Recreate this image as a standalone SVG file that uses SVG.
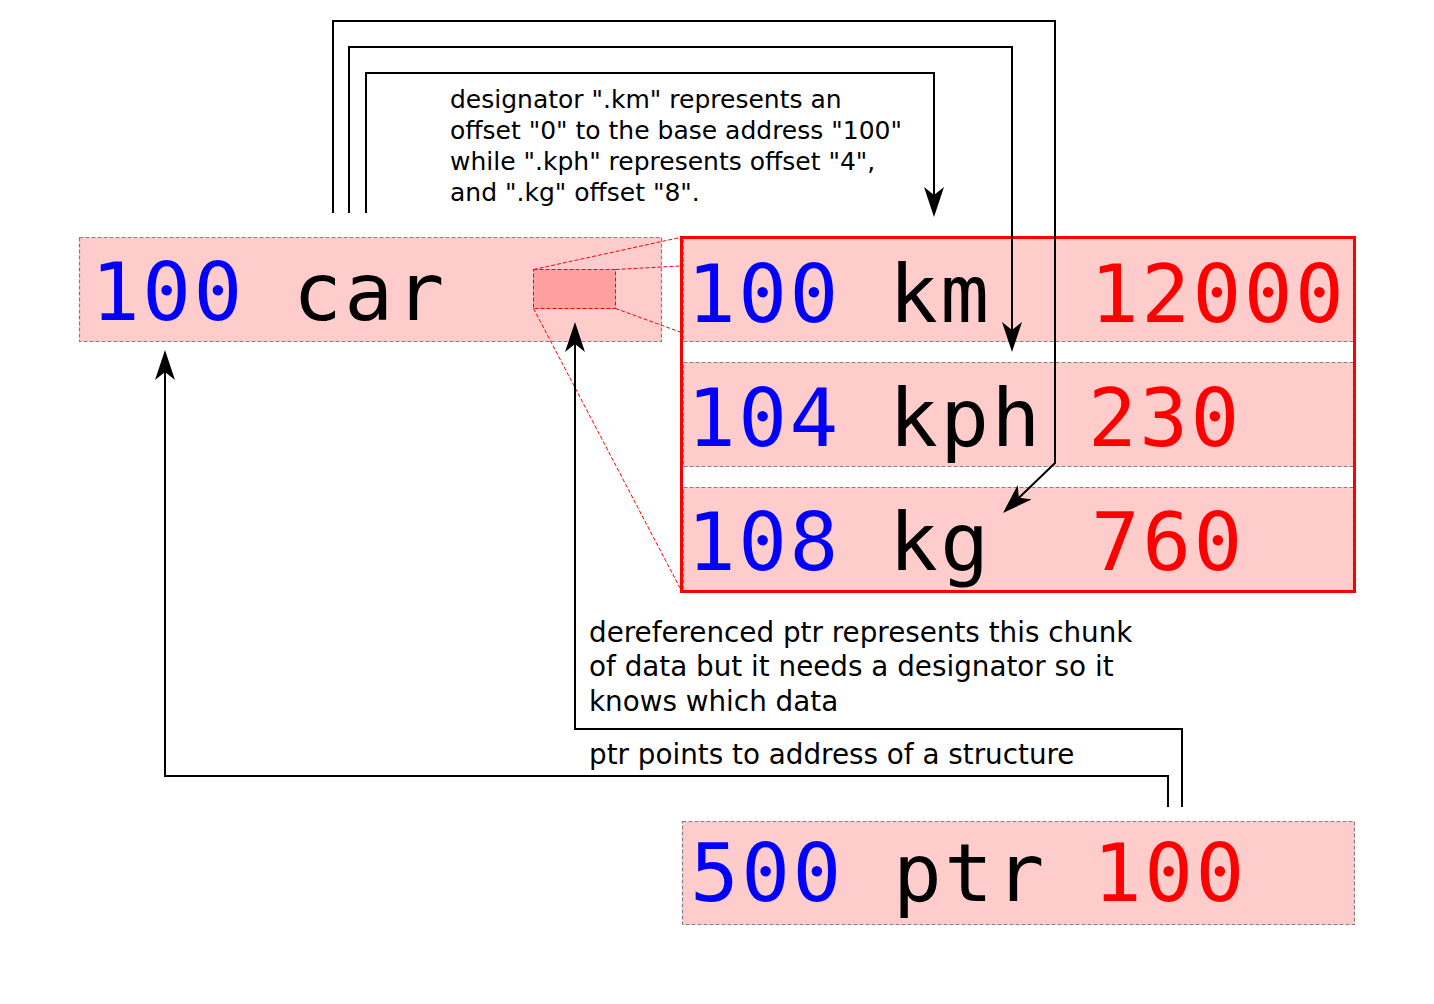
<svg xmlns="http://www.w3.org/2000/svg" width="1434" height="1004" viewBox="0 0 1434 1004">
<style>
.box{fill:#ffcccc;stroke:#808080;stroke-width:1.2;stroke-dasharray:4,2}
.mono{font-family:"DejaVu Sans Mono","Liberation Mono",monospace;font-size:81px;letter-spacing:2.5px}
.addr{fill:#0000ff}
.name{fill:#000000}
.val{fill:#ff0000}
.note{font-family:"DejaVu Sans","Liberation Sans",sans-serif;fill:#000}
.zoom{fill:none;stroke:#ff0000;stroke-width:1;stroke-dasharray:4,2}
.conn{fill:none;stroke:#000;stroke-width:2}
</style>
<defs>
<marker id="arr" viewBox="0 0 30 20" refX="20" refY="10" markerWidth="30" markerHeight="20" markerUnits="userSpaceOnUse" orient="auto">
<path d="M0,0 L30,10 L0,20 L8,10 Z" fill="#000"/>
</marker>
</defs>
<rect width="1434" height="1004" fill="#fff"/>

<g id="car">
<rect class="box" x="79.5" y="237.5" width="582" height="104"/>
<text class="mono" y="320"><tspan class="addr" x="91">100</tspan><tspan class="name" x="293">car</tspan></text>
<rect x="533.5" y="269.5" width="82" height="39" fill="#ff9f9f" stroke="#ff0000" stroke-width="1" stroke-dasharray="4,2"/>
</g>

<g id="zoomlines">
<line class="zoom" x1="533.5" y1="269.5" x2="680" y2="237.5"/>
<line class="zoom" x1="615.5" y1="269.5" x2="680" y2="266"/>
<line class="zoom" x1="615.5" y1="308.5" x2="680" y2="332"/>
<line class="zoom" x1="533.5" y1="308.5" x2="680" y2="588"/>
</g>

<g id="struct">
<rect class="box" x="683.5" y="237.5" width="670" height="104"/>
<rect class="box" x="683.5" y="362.5" width="670" height="104"/>
<rect class="box" x="683.5" y="487.5" width="670" height="104"/>
<rect x="681.5" y="237.5" width="673" height="354" fill="none" stroke="#ff0000" stroke-width="3"/>
<text class="mono" y="322"><tspan class="addr" x="687">100</tspan><tspan class="name" x="889">km</tspan><tspan class="val" x="1090">12000</tspan></text>
<text class="mono" y="446"><tspan class="addr" x="687">104</tspan><tspan class="name" x="889">kph</tspan><tspan class="val" x="1088">230</tspan></text>
<text class="mono" y="570"><tspan class="addr" x="687">108</tspan><tspan class="name" x="889">kg</tspan><tspan class="val" x="1091">760</tspan></text>
</g>

<g id="ptr">
<rect class="box" x="682.5" y="821.5" width="672" height="103"/>
<text class="mono" y="901"><tspan class="addr" x="690">500</tspan><tspan class="name" x="893">ptr</tspan><tspan class="val" x="1093">100</tspan></text>
</g>

<g id="connectors">
<polyline class="conn" points="333,213 333,21 1055,21 1055,463 1010.2,506.1" marker-end="url(#arr)"/>
<polyline class="conn" points="349,213 349,47 1012,47 1012,342" marker-end="url(#arr)"/>
<polyline class="conn" points="366,213 366,73 934,73 934,207" marker-end="url(#arr)"/>
<polyline class="conn" points="1168,807 1168,776 165,776 165,360" marker-end="url(#arr)"/>
<polyline class="conn" points="1182,807 1182,729 575,729 575,332" marker-end="url(#arr)"/>
</g>

<g id="labels">
<text class="note" font-size="25">
<tspan x="450" y="108">designator ".km" represents an</tspan>
<tspan x="450" y="139">offset "0" to the base address "100"</tspan>
<tspan x="450" y="170">while ".kph" represents offset "4",</tspan>
<tspan x="450" y="201">and ".kg" offset "8".</tspan>
</text>
<text class="note" font-size="27.8">
<tspan x="589" y="642">dereferenced ptr represents this chunk</tspan>
<tspan x="589" y="676">of data but it needs a designator so it</tspan>
<tspan x="589" y="711">knows which data</tspan>
</text>
<text class="note" font-size="27.8" x="589" y="764">ptr points to address of a structure</text>
</g>
</svg>
